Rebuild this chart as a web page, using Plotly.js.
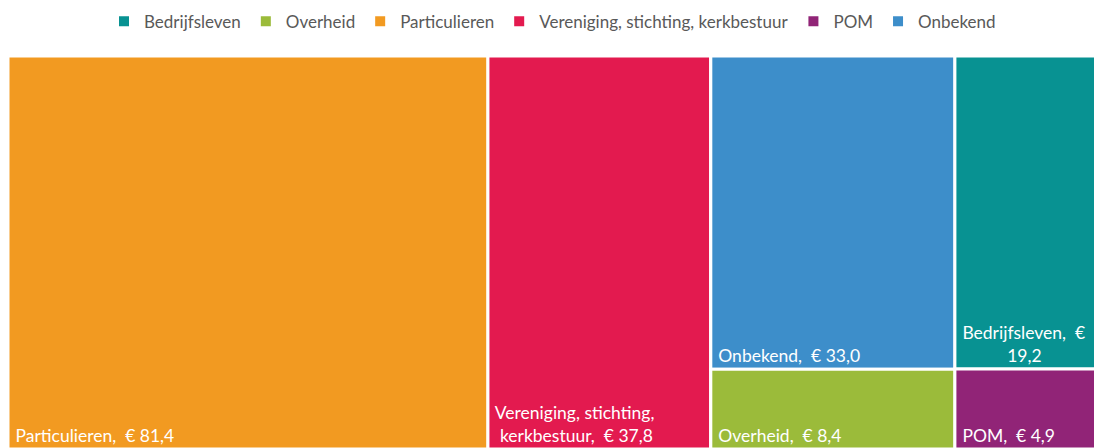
<!DOCTYPE html>
<html>
<head>
<meta charset="utf-8">
<script src="https://cdn.plot.ly/plotly-3.0.1.min.js"></script>
<style>html,body{margin:0;padding:0;background:#fff;overflow:hidden;}#chart{width:1097px;height:449px;}</style>
</head>
<body>
<div id="chart"></div>
<script>
// Data (values in € )
const legendOrder = ["Bedrijfsleven", "Overheid", "Particulieren", "Vereniging, stichting, kerkbestuur", "POM", "Onbekend"];
const legendColors = ["#089292", "#9BBB3A", "#F29A21", "#E31A4F", "#912477", "#3D8ECA"];

const ids     = ["Particulieren", "Vereniging", "G1", "Onbekend", "Overheid", "G2", "Bedrijfsleven", "POM"];
const labels  = ["Particulieren", "Vereniging, stichting, kerkbestuur", "", "Onbekend", "Overheid", "", "Bedrijfsleven", "POM"];
const parents = ["", "", "", "G1", "G1", "", "G2", "G2"];
const values  = [81.4, 37.8, 0, 33.0, 8.4, 0, 19.2, 4.9];
const colors  = ["#F29A21", "#E31A4F", "#ffffff", "#3D8ECA", "#9BBB3A", "#ffffff", "#089292", "#912477"];
const NB = "\u00a0";
const texts   = [
  NB + "Particulieren,  € 81,4",
  NB + "Vereniging, stichting,<br>" + NB.repeat(2) + "kerkbestuur,  € 37,8",
  "",
  NB + "Onbekend,  € 33,0",
  NB + "Overheid,  € 8,4",
  "",
  NB + "Bedrijfsleven,  €<br>" + NB.repeat(11) + "19,2",
  NB + "POM,  € 4,9"
];

const traces = [{
  type: "treemap",
  ids: ids,
  labels: labels,
  parents: parents,
  values: values,
  text: texts,
  branchvalues: "remainder",
  sort: false,
  texttemplate: "%{text}",
  textposition: "bottom left",
  textfont: {family: "Lato, 'Open Sans', sans-serif", size: 17.5, color: "#ffffff"},
  marker: {colors: colors, line: {color: "#ffffff", width: 3}, pad: {t: 0, l: 0, r: 0, b: 0}},
  tiling: {packing: "slice-dice", pad: 0},
  pathbar: {visible: false},
  root: {color: "#ffffff"},
  hoverinfo: "label+value",
  showlegend: false
}];

legendOrder.forEach((name, i) => {
  traces.push({
    type: "scatter", mode: "markers", x: [null], y: [null], name: name,
    marker: {symbol: "square", size: 10, color: legendColors[i]},
    hoverinfo: "skip", showlegend: true
  });
});

const layout = {
  width: 1097, height: 449,
  margin: {l: 8, r: 0, t: 56, b: 0},
  paper_bgcolor: "#ffffff", plot_bgcolor: "#ffffff",
  font: {family: "Lato, 'Open Sans', sans-serif"},
  xaxis: {visible: false}, yaxis: {visible: false},
  showlegend: true,
  legend: {
    orientation: "h", x: 0.5, xanchor: "center", y: 0.992, yanchor: "top", yref: "container",
    font: {size: 17, color: "#595959"}, itemwidth: 30, tracegroupgap: 0
  }
};

Plotly.newPlot("chart", traces, layout, {displayModeBar: false, staticPlot: true});
</script>
</body>
</html>
